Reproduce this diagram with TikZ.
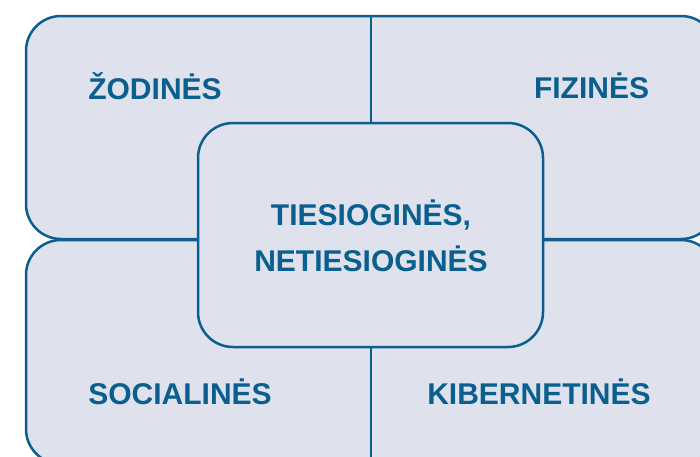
\documentclass[tikz,border=0pt]{standalone}
\usepackage{fontspec}
\setsansfont{Liberation Sans}
\usepackage{tikz}
\definecolor{darkblue}{HTML}{0A5F8F}
\definecolor{paleblue}{HTML}{DFE2EC}
\tikzset{
  box/.style={draw=darkblue, fill=paleblue, line width=2.5pt, rounded corners=35pt, inner sep=0pt},
  word/.style={text=darkblue, font=\sffamily\bfseries\fontsize{30}{46}\selectfont, inner sep=0pt, anchor=base}
}

\begin{document}
\begin{tikzpicture}[x=1pt, y=-1pt]
        \useasboundingbox (0,0) rectangle (700,456);
        \clip (0,0) rectangle (700,456);

        % two rows, split down the middle
        \node[box, minimum width=690pt, minimum height=223pt] (toprow) at (371,127.5) {};
        \node[box, minimum width=690pt, minimum height=224pt] (bottomrow) at (371,352) {};
        \draw[darkblue, line width=2.5pt] (toprow.north) -- (bottomrow.south);

        \node[box, minimum width=345pt, minimum height=224pt] (middle) at (370.5,235) {};

        \node[word] (verballabel) at (155,99) {ŽODINĖS};
        \node[word] (physicallabel) at (591.5,98) {FIZINĖS};
        \node[word] (sociallabel) at (180,404) {SOCIALINĖS};
        \node[word] (cyberlabel) at (539,404) {KIBERNETINĖS};
        \node[word, align=center] (middlelabel) at (371,271) {TIESIOGINĖS,\\NETIESIOGINĖS};
\end{tikzpicture}
\end{document}
